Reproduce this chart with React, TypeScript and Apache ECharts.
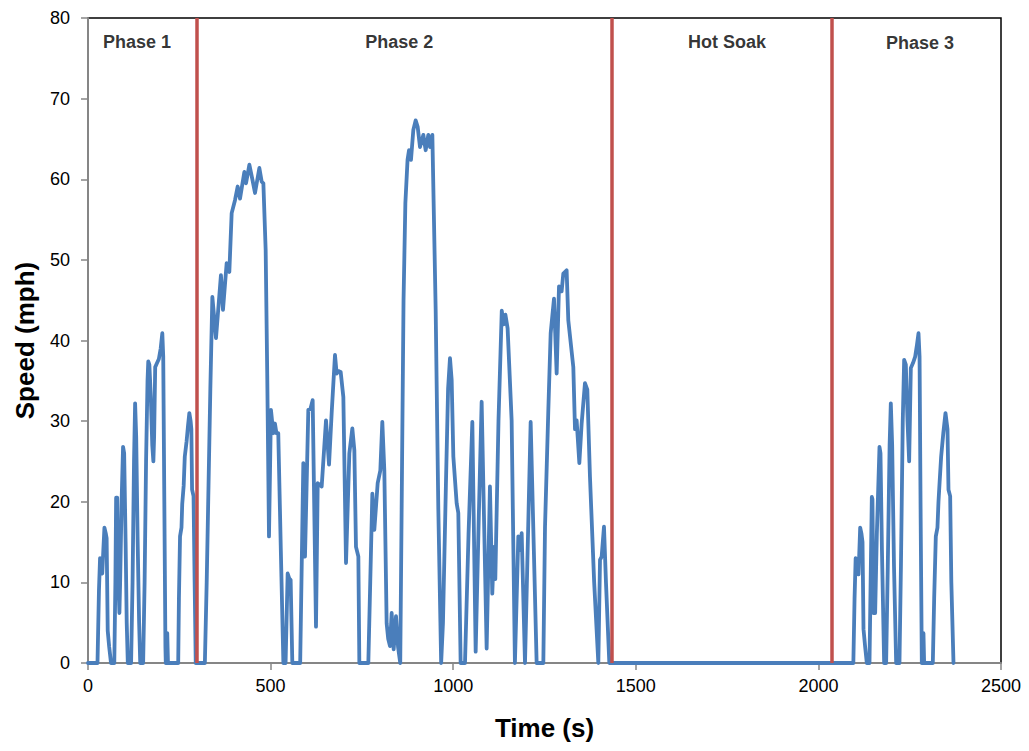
import React, { useEffect, useRef } from "react";
import * as echarts from "echarts";

// [time (s), speed (mph)]
const phase1: [number, number][] = [
  [0, 0], [26, 0], [30, 9], [33, 13], [36, 12], [39, 11.1], [42, 14], [45, 16.8], [49, 16], [51, 15.5],
  [54, 4], [58, 2], [63, 0], [72, 0], [75, 10], [77, 20.5], [80, 20.5], [82, 12], [86, 6.2], [88, 10],
  [92, 20], [96, 26.8], [99, 26], [103, 15], [106, 5], [109, 0], [118, 0], [122, 10], [126, 25], [129, 32.2],
  [132, 28], [136, 15], [140, 5], [143, 0], [151, 0], [155, 10], [159, 25], [163, 35], [165, 37.4], [168, 37],
  [172, 33], [176, 27], [179, 25], [181, 28], [184, 36.7], [189, 37.2], [194, 37.7], [199, 39], [203.5, 40.9],
  [206, 38], [209, 20], [212, 2], [213, 0], [215, 3.7], [217, 3.7], [219, 0], [247, 0], [249, 8], [252, 15.7],
  [256, 16.8], [258, 19.7], [262, 22], [265, 25.6], [270, 27.5], [274, 29.5], [277.5, 31], [281, 30], [283, 29],
  [285, 21.5], [289, 20.7], [292, 10], [295, 0],
];

const phase2: [number, number][] = [
  [320, 0], [325, 10], [330, 22], [335, 34], [340.5, 45.4], [350.5, 40.3], [364, 48.1], [369.6, 43.8],
  [379.7, 49.6], [387, 48.5], [393.4, 55.8], [402.5, 57.4], [409.8, 59.1], [416.2, 57.6], [428.1, 60.9],
  [432.7, 59.5], [441.8, 61.8], [450, 60], [457.3, 58.3], [469.2, 61.4], [475.6, 59.7], [480.2, 59.5],
  [486.5, 51.2], [491, 35], [495.6, 15.7], [501, 31.4], [507.4, 28.5], [511.9, 29.7], [516, 28.5], [521, 28.5],
  [528, 14], [535, 0], [541, 0], [546.7, 11.1], [551, 10.5], [554.9, 10.3], [559.5, 0], [581, 0],
  [589.6, 24.8], [594.2, 13.2], [603.3, 31.4], [609, 31.5], [615.2, 32.6], [624.3, 4.5], [629, 22.3],
  [639.9, 21.9], [651.7, 30.1], [660, 24.6], [667.2, 31], [676.3, 38.2], [680.9, 35.9], [686, 36.2],
  [691.9, 36.1], [699.2, 33], [706.5, 12.4], [715.6, 26], [723.8, 29.1], [729.3, 26.4], [733.8, 14.4],
  [740.3, 13.2], [743, 0], [767.6, 0], [778.6, 21], [784, 16.5], [793.2, 22.3], [800.5, 23.9], [805.9, 29.9],
  [811.4, 23.9], [817.8, 4.9], [822, 3], [826.9, 2.1], [831.5, 6.2], [837, 1.7], [843.4, 5.8], [849, 2],
  [855, 0], [860, 25], [864, 45], [869, 57], [875, 62.4], [879, 63.6], [884.4, 62.4], [890.8, 66.1],
  [897.2, 67.3], [902.7, 66.5], [909.1, 64], [918.2, 65.5], [924.6, 63.6], [931.9, 65.5], [936.5, 64],
  [942.9, 65.5], [952, 43.8], [959.3, 19], [967, 0], [972, 5], [980, 22], [986, 34], [991.2, 37.8],
  [995.8, 35.1], [1000.4, 25.6], [1009.5, 19.8], [1014, 18.6], [1020.4, 0], [1032.3, 0], [1042, 16],
  [1052.4, 29.9], [1061.5, 1.4], [1070, 18], [1077.9, 32.4], [1091.6, 1.8], [1100.6, 21.9], [1107, 8.6],
  [1111.7, 14.4], [1115.3, 10.4], [1124, 30], [1133, 43.7], [1138, 42], [1143, 43.2], [1149, 41.5],
  [1160, 30.1], [1169, 0], [1178.3, 15.7], [1182.9, 14], [1187.5, 16.1], [1196.6, 0], [1212.1, 29.9],
  [1228.5, 0], [1246.8, 0], [1251.4, 16.9], [1260.5, 31.4], [1266.9, 40.9], [1276, 45.2], [1283.3, 35.9],
  [1289.7, 46.7], [1296.9, 46.1], [1301.5, 48.3], [1310.6, 48.7], [1315.2, 42.5], [1328.9, 36.7],
  [1333.5, 29], [1338, 30.1], [1345.4, 24.8], [1351.7, 29.7], [1360.8, 34.7], [1367.2, 33.9], [1374.5, 23.1],
  [1386, 10], [1397.4, 0], [1402, 12.8], [1406.5, 13.2], [1412.9, 16.9], [1418.4, 9.9], [1427.5, 0],
];

const hotSoak: [number, number][] = [
  [1427.5, 0], [2095.7, 0],
];

const phase3: [number, number][] = [
  [2095.7, 0], [2099, 8], [2102, 13], [2106, 12], [2109.9, 11], [2114.4, 16.8], [2118, 16], [2120.8, 15],
  [2123.5, 4.2], [2128, 2], [2132.6, 0], [2139.9, 0], [2143, 10], [2146.3, 20.6], [2148, 20.3], [2150.9, 6.2],
  [2155.4, 6.2], [2160, 16], [2167.3, 26.8], [2170, 26], [2174, 14], [2180, 0], [2185.5, 0], [2190, 12],
  [2195, 27], [2198.3, 32.2], [2202, 27], [2207, 12], [2212.9, 0], [2222, 0], [2226, 12], [2231, 30],
  [2234.8, 37.6], [2239.4, 37], [2244, 30], [2248.5, 25], [2253.1, 36.6], [2259, 37.2], [2265, 38],
  [2270, 39.5], [2274.1, 40.9], [2277, 38], [2280, 18], [2283.2, 0], [2285, 3.7], [2287.7, 3.7], [2289.5, 0],
  [2313.3, 0], [2317, 8], [2321.5, 15.7], [2326, 16.8], [2328.8, 20], [2332, 22.5], [2336.1, 25.6],
  [2342, 28.5], [2348, 31], [2353.5, 29], [2356.2, 21.5], [2360.8, 20.7], [2364, 10], [2369.9, 0],
];

const phaseBoundaries: number[] = [298.5, 1435, 2037];
const phaseNames: string[] = ["Phase 1", "Phase 2", "Hot Soak", "Phase 3"];
const phaseLabelTimes: number[] = [134, 852, 1750, 2278];
const phaseLabelSpeeds: number[] = [77.06, 77.06, 77.06, 76.9];

const xTicks = { min: 0, max: 2500, interval: 500 };
const yTicks = { min: 0, max: 80, interval: 10 };

const FONT = "'Liberation Sans', Arial, sans-serif";

export default function App() {
  const ref = useRef<HTMLDivElement>(null);
  useEffect(() => {
    if (!ref.current) return;
    const chart = echarts.init(ref.current, null, { renderer: "svg" });
    const speedData = [...phase1, ...phase2, ...hotSoak, ...phase3];
    chart.setOption({
      animation: false,
      backgroundColor: "#ffffff",
      textStyle: { fontFamily: FONT },
      grid: {
        left: 88, right: 28, top: 18, bottom: 88,
        show: true, borderColor: "#000000", borderWidth: 1.5, backgroundColor: "transparent",
      },
      xAxis: {
        type: "value",
        min: xTicks.min, max: xTicks.max, interval: xTicks.interval,
        name: "Time (s)",
        nameLocation: "middle",
        nameGap: 52,
        nameTextStyle: { fontFamily: FONT, fontSize: 26, fontWeight: "bold", color: "#000" },
        axisLine: { show: true, lineStyle: { color: "#868686", width: 2 } },
        axisTick: { show: true, inside: false, length: 7, lineStyle: { color: "#868686", width: 1.5 } },
        axisLabel: {
          fontFamily: FONT, fontSize: 18, color: "#000", margin: 14,
          formatter: (v: number) => String(v),
        },
        splitLine: { show: false },
      },
      yAxis: {
        type: "value",
        min: yTicks.min, max: yTicks.max, interval: yTicks.interval,
        name: "Speed (mph)",
        nameLocation: "middle",
        nameGap: 50,
        nameTextStyle: { fontFamily: FONT, fontSize: 26, fontWeight: "bold", color: "#000" },
        axisLine: { show: true, lineStyle: { color: "#868686", width: 2 } },
        axisTick: { show: true, inside: false, length: 7, lineStyle: { color: "#868686", width: 1.5 } },
        axisLabel: {
          fontFamily: FONT, fontSize: 18, color: "#000", margin: 18,
          formatter: (v: number) => String(v),
        },
        splitLine: { show: false },
      },
      series: [
        {
          type: "line",
          data: speedData,
          showSymbol: false,
          smooth: false,
          lineStyle: { color: "#4a7ebb", width: 3.8, join: "round", cap: "round" },
          z: 2,
        },
        {
          type: "line",
          data: [],
          z: 3,
          markLine: {
            silent: true,
            symbol: ["none", "none"],
            label: { show: false },
            lineStyle: { color: "#c0504d", width: 3.5, type: "solid" },
            data: phaseBoundaries.map((t) => ({ xAxis: t })),
          },
        },
        {
          type: "scatter",
          symbolSize: 0,
          z: 4,
          data: phaseNames.map((n, i) => ({ name: n, value: [phaseLabelTimes[i], phaseLabelSpeeds[i]] })),
          label: {
            show: true,
            position: "inside",
            formatter: (p: any) => p.name,
            fontFamily: FONT,
            fontSize: 18,
            fontWeight: "bold",
            color: "#000",
          },
        },
      ],
    });
    return () => chart.dispose();
  }, []);
  return (
    <div
      ref={ref}
      style={{ position: "fixed", left: 0, top: 0, width: 1029, height: 751, background: "#fff" }}
    />
  );
}
